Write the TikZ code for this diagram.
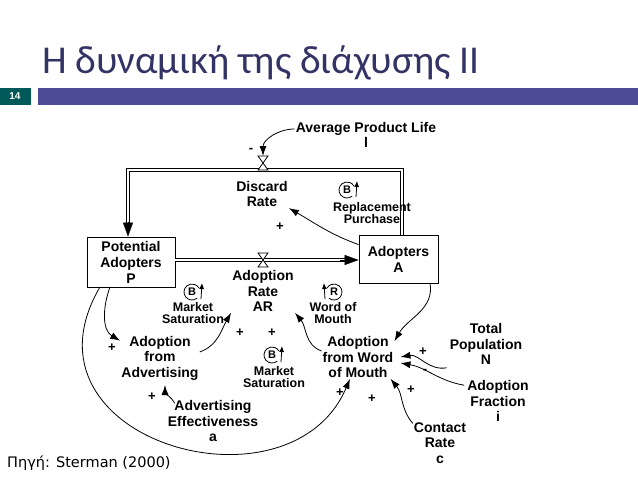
\documentclass[tikz,border=0pt]{standalone}
\usepackage{fontspec}
\setmainfont{Liberation Sans}
\newfontfamily\titlefont{Carlito}
\newfontfamily\notefont{DejaVu Sans}
\usetikzlibrary{arrows.meta}

\tikzset{
  lbl/.style={font=\bfseries\fontsize{14}{15.5}\selectfont, align=center, inner sep=1pt},
  small lbl/.style={lbl, font=\bfseries\fontsize{12.5}{12}\selectfont},
  sgn/.style={font=\bfseries\fontsize{13}{13}\selectfont, inner sep=0pt},
  link/.style={-{Latex[length=10pt,width=7pt]}, thick},
  pipe/.style={double, double distance=2.4pt, thick},
  stockbox/.style={draw, thick, minimum width=88pt, minimum height=50pt, align=center,
    inner sep=1pt, font=\bfseries\fontsize{14}{16}\selectfont},
}

\newcommand{\valve}[2]{%
  \draw[thick, fill=white] (#1-5,#2-7) -- (#1+5,#2-7) -- (#1-5,#2+7) -- (#1+5,#2+7) -- cycle;}
\newcommand{\loopsign}[3]{%
  \node[font=\bfseries\fontsize{11}{11}\selectfont, inner sep=0pt] at (#1,#2) {#3};
  \draw[thick] (#1,#2) ++(50:8) arc[start angle=50, end angle=330, radius=8];
  \draw[-{Latex[length=6pt,width=5pt]}, thick] (#1+9,#2+7) -- (#1+10,#2-9);}

\begin{document}
\begin{tikzpicture}[x=1pt, y=-1pt]
\useasboundingbox (0,0) rectangle (638,479);

%--------------------
% Cabecera
%--------------------
\node[anchor=base west, inner sep=0pt, text=black!75!blue!80,
  font=\titlefont\fontsize{39.5}{40}\selectfont] (title) at (42,73) {Η δυναμική της διάχυσης ΙΙ};
\fill[teal!70!black] (0,88) rectangle (31,105);
\node[text=white, font=\bfseries\fontsize{10}{10}\selectfont] (num) at (15,96.5) {14};
\fill[blue!40!black!70] (38,88) rectangle (638,105);

%--------------------
% Niveles y flujos
%--------------------
\node[stockbox, minimum width=88pt] (P) at (131,262) {Potential\\Adopters\\P};
\node[stockbox, minimum width=79pt, minimum height=48pt] (A) at (398.5,259) {Adopters\\A};

\draw[pipe] (P.east |- 0,260) -- (350,260);
\draw[-{Triangle[length=14pt,width=10pt]}] (340,260) -- (A.west |- 0,260);
\draw[pipe] (A.north -| 402,0) -- (402,170) -- (128,170) -- (128,228);
\draw[-{Triangle[length=14pt,width=10pt]}] (128,222) -- (P.north -| 128,0);
\valve{263}{163}
\valve{263}{260}

%--------------------
% Variables
%--------------------
\node[lbl] (life) at (366,135) {Average Product Life\\l};
\node[lbl] (discard) at (262,194) {Discard\\Rate};
\node[lbl] (AR) at (263,291) {Adoption\\Rate\\AR};
\node[lbl] (adv) at (160,358) {Adoption\\from\\Advertising};
\node[lbl] (wom) at (358,357) {Adoption\\from Word\\of Mouth};
\node[lbl] (eff) at (213,421) {Advertising\\Effectiveness\\a};
\node[lbl] (pop) at (486,344) {Total\\Population\\N};
\node[lbl] (frac) at (498,401) {Adoption\\Fraction\\i};
\node[lbl] (contact) at (440,443) {Contact\\Rate\\c};

%--------------------
% Bucles
%--------------------
\loopsign{347}{190}{B}
\node[small lbl] (repl) at (372,213) {Replacement\\Purchase};
\loopsign{192}{292}{B}
\node[small lbl] (sat1) at (193,313) {Market\\Saturation};
\node[font=\bfseries\fontsize{11}{11}\selectfont, inner sep=0pt] at (334,292) {R};
\draw[thick] (334,292) ++(130:8) arc[start angle=130, end angle=-150, radius=8];
\draw[-{Latex[length=6pt,width=5pt]}, thick] (325,299) -- (324,283);
\node[small lbl] (wm) at (333,313) {Word of\\Mouth};
\loopsign{272}{355}{B}
\node[small lbl] (sat2) at (274,377) {Market\\Saturation};

%--------------------
% Enlaces
%--------------------
\draw[link] (life.north west) ++(0,8) to[out=180, in=90] (263,156);
\draw[link] (A.north west) ++(0,10) to[out=160, in=-30] (discard.south east);
\draw[link] (adv.east) ++(0,-6) to[out=20, in=-120] (AR.south west);
\draw[link] (wom.west) ++(0,-6) to[out=160, in=-50] (AR.south east);
\draw[link] (110,287) to[out=-110, in=150] ([yshift=-6pt]adv.north west);
\draw[link] (430,283) to[out=-80, in=60] ([yshift=-6pt]wom.north east);
\draw[link] (100,287) .. controls (10,440) and (290,520) .. ([xshift=-8pt]wom.south);
\draw[link] (eff.north west) ++(8,4) to[out=120, in=-90] (165,385);
\draw[link] (pop.south west) ++(-2,2) to[out=190, in=10] ([shift={(6,0)}]wom.east);
\draw[link] (frac.north west) ++(-2,6) to[out=170, in=-10] ([shift={(6,6)}]wom.east);
\draw[link] (contact.north west) ++(0,2) to[out=130, in=-50] ([xshift=-4pt]wom.south east);

%--------------------
% Signos
%--------------------
\node[sgn] at (251,150) {-};
\node[sgn] at (280,227) {+};
\node[sgn] at (240,333) {+};
\node[sgn] at (272,333) {+};
\node[sgn] at (112,348) {+};
\node[sgn] at (152,397) {+};
\node[sgn] at (340,393) {+};
\node[sgn] at (372,399) {+};
\node[sgn] at (423,352) {+};
\node[sgn] at (425,371) {-};
\node[sgn] at (411,390) {+};

%--------------------
% Fuente
%--------------------
\node[anchor=base west, inner sep=0pt, font=\notefont\fontsize{14.5}{14.5}\selectfont] (src) at (7,467) {Πηγή: Sterman (2000)};
\end{tikzpicture}
\end{document}
